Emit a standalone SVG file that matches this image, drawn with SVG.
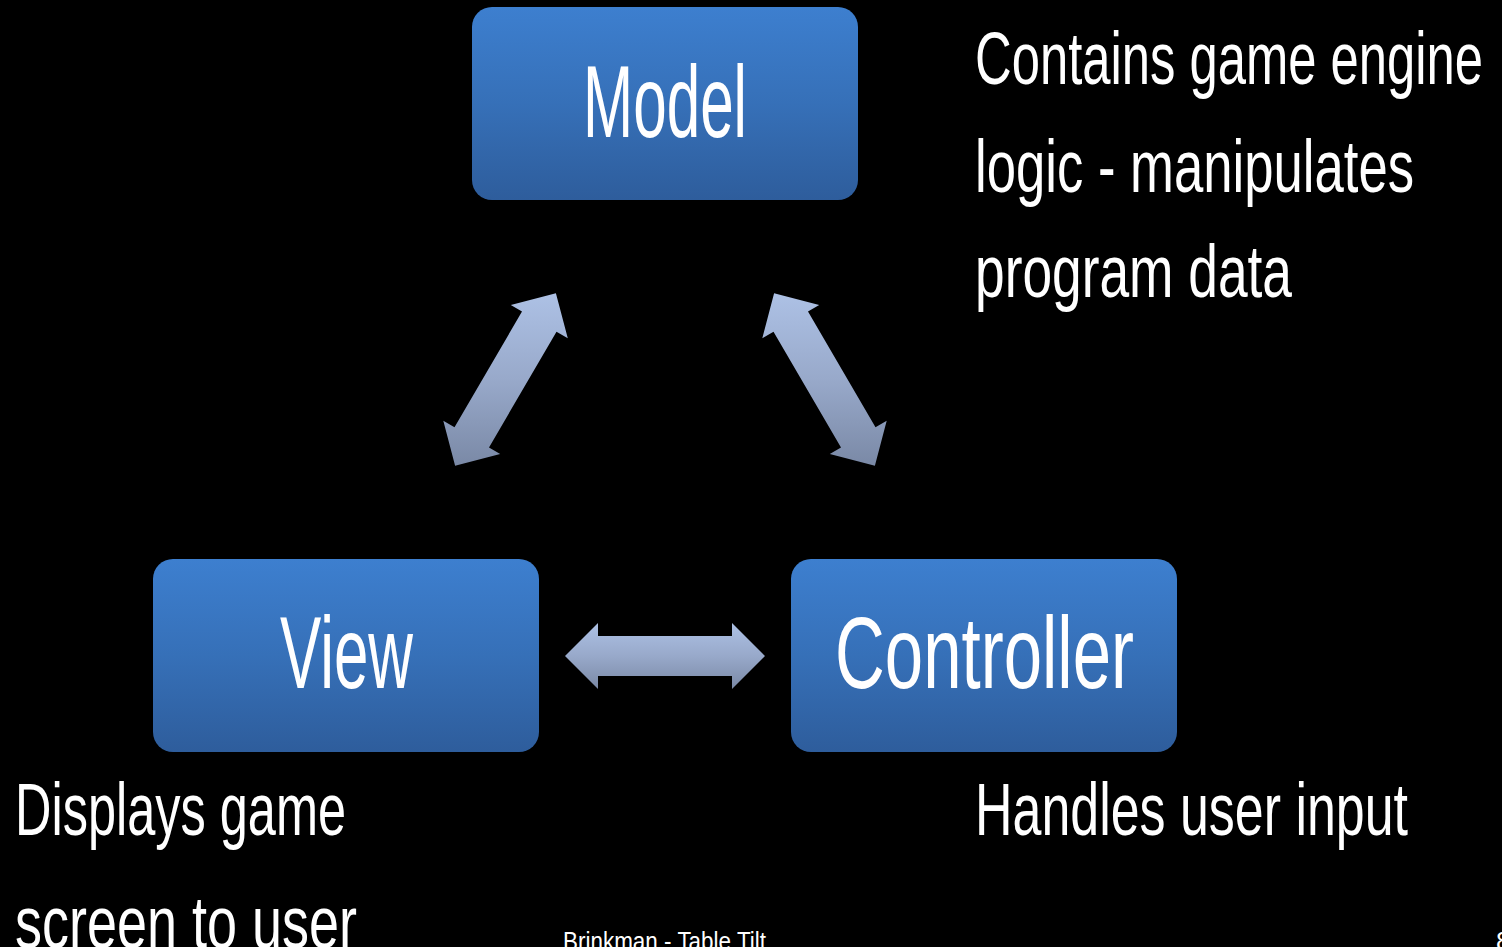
<svg xmlns="http://www.w3.org/2000/svg" width="1502" height="947" viewBox="0 0 1502 947">
<defs>
<linearGradient id="boxGrad" x1="0" y1="0" x2="0" y2="1">
<stop offset="0" stop-color="#3d7fcf"/>
<stop offset="0.5" stop-color="#3670b8"/>
<stop offset="1" stop-color="#2e5d9c"/>
</linearGradient>
<linearGradient id="arrowGrad" x1="0" y1="0" x2="0" y2="1">
<stop offset="0" stop-color="#adc1e5"/>
<stop offset="0.5" stop-color="#98a9ca"/>
<stop offset="1" stop-color="#7a89a6"/>
</linearGradient>
</defs>
<style>
.box{fill:url(#boxGrad);}
.arrow{fill:url(#arrowGrad);}
.t{font-family:"Liberation Sans Narrow","Liberation Sans",Arial,sans-serif;fill:#ffffff;}
.title{font-size:102px;}
.body{font-size:75px;}
.foot{font-size:26px;}
</style>
<rect x="0" y="0" width="1502" height="947" fill="#000000"/>

<g id="connectors">
<polygon class="arrow" points="555.9,293.2 567.8,338.3 556.5,331.8 489.0,447.4 500.2,454.0 455.1,465.8 443.3,420.7 454.5,427.2 522.0,311.6 510.8,305.1"/>
<polygon class="arrow" points="774.1,293.2 819.2,305.1 808.0,311.6 875.5,427.2 886.7,420.7 874.9,465.8 829.8,454.0 841.0,447.4 773.5,331.8 762.3,338.3"/>
<polygon class="arrow" points="565,656 598,623 598,636 732,636 732,623 765,656 732,689 732,676 598,676 598,689"/>
</g>

<g id="model">
<rect class="box" x="472" y="7" width="386" height="193" rx="20" ry="20"/>
<text class="t title" x="583" y="137" textLength="164" lengthAdjust="spacingAndGlyphs">Model</text>
</g>

<g id="view">
<rect class="box" x="153" y="559" width="386" height="193" rx="20" ry="20"/>
<text class="t title" x="280" y="688" textLength="133" lengthAdjust="spacingAndGlyphs">View</text>
</g>

<g id="controller">
<rect class="box" x="791" y="559" width="386" height="193" rx="20" ry="20"/>
<text class="t title" x="835" y="688" textLength="299" lengthAdjust="spacingAndGlyphs">Controller</text>
</g>

<g id="notes">
<text class="t body" x="975" y="84" textLength="508" lengthAdjust="spacingAndGlyphs">Contains game engine</text>
<text class="t body" x="975" y="192" textLength="439" lengthAdjust="spacingAndGlyphs">logic - manipulates</text>
<text class="t body" x="975" y="297" textLength="317" lengthAdjust="spacingAndGlyphs">program data</text>
<text class="t body" x="15" y="835" textLength="331" lengthAdjust="spacingAndGlyphs">Displays game</text>
<text class="t body" x="15" y="948" textLength="342" lengthAdjust="spacingAndGlyphs">screen to user</text>
<text class="t body" x="975" y="835" textLength="433" lengthAdjust="spacingAndGlyphs">Handles user input</text>
</g>

<g id="footer">
<text class="t foot" x="563" y="950" textLength="203" lengthAdjust="spacingAndGlyphs">Brinkman - Table Tilt</text>
<text class="t foot" x="1496" y="950">8</text>
</g>
</svg>
